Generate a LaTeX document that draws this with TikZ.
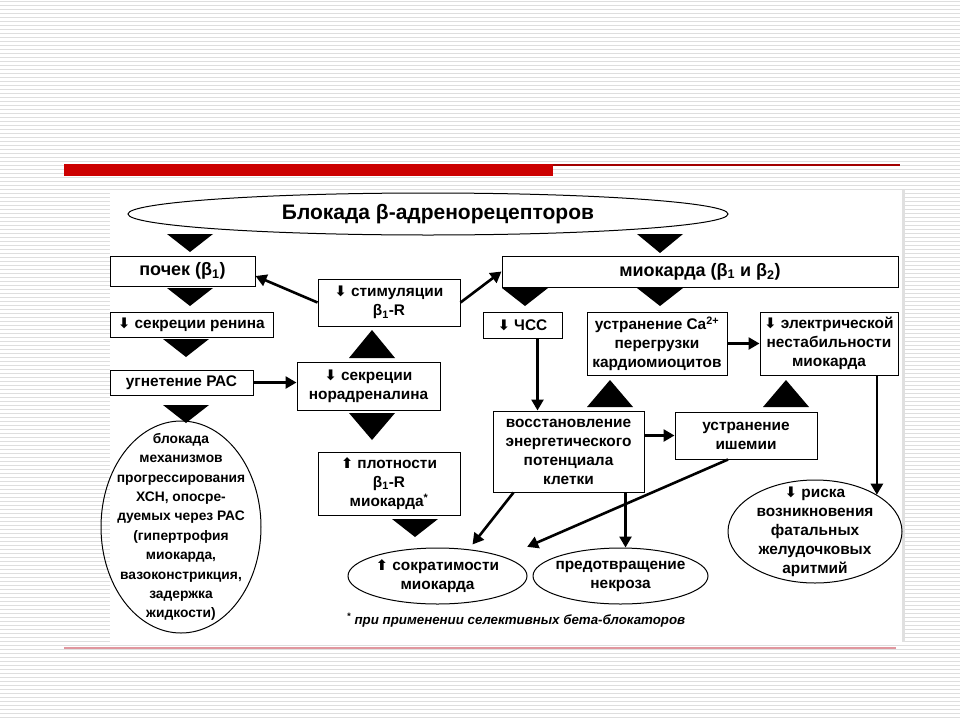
\documentclass[tikz,border=0pt]{standalone}
\usepackage{fontspec}
\setmainfont{Liberation Sans}
\newfontfamily\symfont{DejaVu Sans}
\usepackage{tikz}
\usepackage{xcolor}
\usetikzlibrary{positioning,shapes.geometric,arrows.meta}
\definecolor{slidered}{RGB}{204,0,0}
\definecolor{stripegray}{RGB}{222,222,222}
\definecolor{rulepink}{RGB}{224,150,158}
\newcommand{\arrdn}{{\symfont\bfseries\fontsize{14.5}{14}\selectfont\char"2B07}}
\newcommand{\arrup}{{\symfont\bfseries\fontsize{14.5}{14}\selectfont\char"2B06}}
\newcommand{\bsub}[1]{β\textsubscript{#1}}
\tikzstyle{box} = [draw, line width=1pt, inner sep=0pt, align=center, font=\bfseries\fontsize{15.4}{19}\selectfont]
\tikzstyle{oval} = [draw, ellipse, line width=1pt, inner sep=0pt]
\tikzstyle{txt} = [align=center, font=\bfseries\fontsize{15.4}{19}\selectfont]
\tikzstyle{arr} = [line width=2.6pt, -{Triangle[length=11pt,width=12pt]}]
\begin{document}
\begin{tikzpicture}[x=1pt,y=-1pt]
\useasboundingbox (0,0) rectangle (960,720);
\foreach \k in {0,...,179}
  \draw[stripegray, line width=1pt] (0,4*\k+1.5) -- (960,4*\k+1.5);
\fill[white] (110,190) rectangle (905,642);
\draw[stripegray!80!black!40, line width=3pt] (903,190) -- (903,642);
\fill[slidered] (64,164) rectangle (553,176);
\draw[slidered!80!black, line width=1.2pt] (553,165) -- (900,165);
\draw[rulepink, line width=1.6pt] (64,648) -- (896,648);

\node[oval, minimum width=600pt, minimum height=42pt] (ttl) at (428,214) {};
\node[font=\bfseries\fontsize{21}{24}\selectfont] at (438,214) {Блокада β-адренорецепторов};

\node[box, minimum width=145pt, minimum height=30pt, font=\bfseries\fontsize{18}{20}\selectfont] (pch) at (182.5,271) {почек (\bsub{1})};
\node[box, minimum width=396pt, minimum height=31pt, font=\bfseries\fontsize{18}{20}\selectfont] (mio) at (700,271.5) {миокарда (\bsub{1} и \bsub{2})};
\node[box, minimum width=142pt, minimum height=47pt] (stim) at (389,302.5) {\arrdn{} стимуляции\\\bsub{1}-R};
\node[box, minimum width=163pt, minimum height=25pt] (ren) at (191.5,324.5) {\arrdn{} секреции ренина};
\node[box, minimum width=143pt, minimum height=25pt] (ugn) at (181.5,382.5) {угнетение РАС};
\node[box, minimum width=143pt, minimum height=48pt] (nor) at (368.5,386) {\arrdn{} секреции\\норадреналина};
\node[box, minimum width=142pt, minimum height=63pt] (plt) at (389,483.5) {\arrup{} плотности\\\bsub{1}-R\\миокарда\textsuperscript{*}};
\node[box, minimum width=79pt, minimum height=26pt] (chs) at (522.5,325) {\arrdn{} ЧСС};
\node[box, minimum width=140pt, minimum height=63pt] (ca) at (657,343.5) {устранение Ca\textsuperscript{2+}\\перегрузки\\кардиомиоцитов};
\node[box, minimum width=138pt, minimum height=63pt] (el) at (829,343.5) {\arrdn{} электрической\\нестабильности\\миокарда};
\node[box, minimum width=151pt, minimum height=81pt] (vos) at (568.5,451.5) {восстановление\\энергетического\\потенциала\\клетки};
\node[box, minimum width=142pt, minimum height=47pt] (ish) at (746,435.5) {устранение\\ишемии};

\node[oval, minimum width=160pt, minimum height=212pt] (crc) at (181,527) {};
\node[txt, font=\bfseries\fontsize{13.8}{19.4}\selectfont] at (crc) {блокада\\механизмов\\прогрессирования\\ХСН, опосре-\\дуемых через РАС\\(гипертрофия\\миокарда,\\вазоконстрикция,\\задержка\\жидкости)};
\node[oval, minimum width=179pt, minimum height=56pt] (skr) at (437.5,576) {};
\node[txt] at (skr) {\arrup{} сократимости\\миокарда};
\node[oval, minimum width=175pt, minimum height=56pt] (nek) at (620.5,576) {};
\node[txt] at (nek) {предотвращение\\некроза};
\node[oval, minimum width=174pt, minimum height=103pt] (rsk) at (815,531.5) {};
\node[txt] at (rsk) {\arrdn{} риска\\возникновения\\фатальных\\желудочковых\\аритмий};
\node[font=\bfseries\itshape\fontsize{13.3}{16}\selectfont] (note) at (516,620) {\textsuperscript{*} при применении селективных бета-блокаторов};

\foreach \x/\y/\h in {190/234/18, 660/234/19, 190/288/18, 525/288/18, 660/288/18, 186/339/18, 186/405/18, 372/358/-28, 372/413/27, 415/519/18, 610/407/-27, 786/407/-27}
  \fill (\x-23,\y) -- (\x+23,\y) -- (\x,\y+\h) -- cycle;

\draw[arr] (stim.west) -- ([yshift=-5pt]pch.east);
\draw[arr] (stim.east) -- (mio.west);
\draw[arr] (ugn.east) -- (nor.west |- ugn.east);
\draw[arr] ([xshift=15pt]chs.south) -- ([xshift=15pt]chs.south |- vos.north);
\draw[arr] (ca.east) -- (el.west);
\draw[arr] (el.south -| rsk.north east) -- (rsk.north east);
\draw[arr] (vos.east |- ish) -- (ish.west);
\draw[arr] ([xshift=-18pt]ish.south) -- ([xshift=26pt,yshift=9pt]skr.north east);
\draw[arr] ([xshift=-55pt]vos.south) -- ([xshift=35pt,yshift=3pt]skr.north);
\draw[arr] ([xshift=57pt]vos.south) -- ([xshift=57pt]vos.south |- nek.north);
\end{tikzpicture}
\end{document}
